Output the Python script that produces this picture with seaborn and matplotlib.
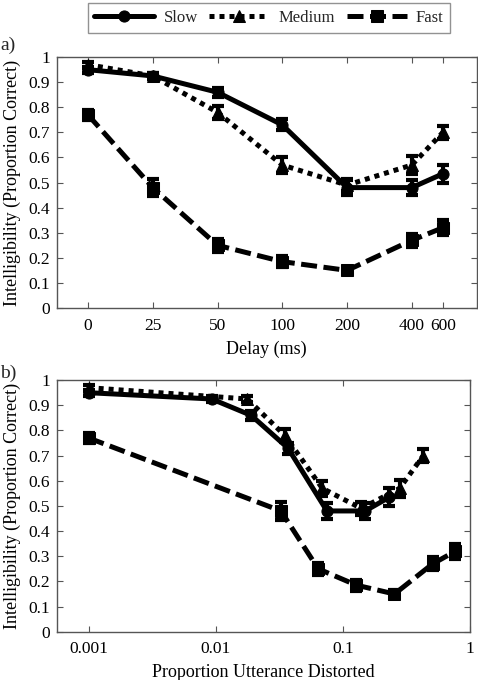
import matplotlib
matplotlib.use("Agg")
import matplotlib.pyplot as plt
import seaborn as sns
import numpy as np
from matplotlib.ticker import FixedLocator, NullLocator

# ---------------- data ----------------
delay_labels = ["0", "25", "50", "100", "200", "400", "600"]
delay_x = [0, 1, 2, 3, 4, 5, 5.48]

slow_y = [0.95, 0.925, 0.86, 0.73, 0.48, 0.48, 0.535]
slow_err = [0.012, 0.012, 0.018, 0.022, 0.03, 0.03, 0.035]
medium_y = [0.97, 0.925, 0.78, 0.57, 0.49, 0.57, 0.70]
medium_err = [0.012, 0.012, 0.025, 0.03, 0.025, 0.035, 0.025]
fast_y = [0.77, 0.48, 0.25, 0.185, 0.15, 0.27, 0.32]
fast_err = [0.02, 0.035, 0.025, 0.022, 0.015, 0.025, 0.03]

slow_prop = [0.001, 0.0093, 0.019, 0.037, 0.075, 0.15, 0.233]
medium_prop = [0.001, 0.0177, 0.035, 0.069, 0.14, 0.28, 0.43]
fast_prop = [0.001, 0.0326, 0.064, 0.128, 0.255, 0.51, 0.77]

y_ticks = [0, 0.1, 0.2, 0.3, 0.4, 0.5, 0.6, 0.7, 0.8, 0.9, 1]
y_ticklabels = ["0", "0.1", "0.2", "0.3", "0.4", "0.5", "0.6", "0.7", "0.8", "0.9", "1"]
prop_ticks = [0.001, 0.01, 0.1, 1]
prop_ticklabels = ["0.001", "0.01", "0.1", "1"]

series_names = ["Slow", "Medium", "Fast"]

# ---------------- style ----------------
sns.set_theme(style="white")
plt.rcParams["font.family"] = ["Liberation Serif", "DejaVu Serif"]
plt.rcParams["axes.edgecolor"] = "#555555"
plt.rcParams["axes.linewidth"] = 1.0

styles = {
    "Slow": dict(linestyle="-", marker="o"),
    "Medium": dict(linestyle=(0, (1.0, 1.0)), marker="^"),
    "Fast": dict(linestyle=(0, (3.2, 1.3)), marker="s"),
}

fig = plt.figure(figsize=(4.78, 6.8), dpi=100)
ax1 = fig.add_axes([0.119, 0.547, 0.878, 0.369])
ax2 = fig.add_axes([0.119, 0.071, 0.864, 0.370])

ys = {"Slow": slow_y, "Medium": medium_y, "Fast": fast_y}
errs = {"Slow": slow_err, "Medium": medium_err, "Fast": fast_err}
props = {"Slow": slow_prop, "Medium": medium_prop, "Fast": fast_prop}


def draw(ax, xs_for):
    for name in series_names:
        st = styles[name]
        xs = xs_for(name)
        sns.lineplot(x=xs, y=ys[name], ax=ax, color="black", linewidth=3.6,
                     linestyle=st["linestyle"], marker=st["marker"], markersize=8,
                     markeredgecolor="black", markerfacecolor="black",
                     sort=False, estimator=None, label=name, legend=False)
        ax.errorbar(xs, ys[name], yerr=errs[name], fmt="none", ecolor="black",
                    elinewidth=3.0, capsize=4, capthick=3.0)
    return ax


draw(ax1, lambda n: delay_x)
draw(ax2, lambda n: props[n])

for ax in (ax1, ax2):
    ax.set_ylim(0, 1)
    ax.set_yticks(y_ticks)
    ax.set_yticklabels(y_ticklabels)
    ax.tick_params(direction="in", length=4, width=0.8, color="#555555",
                   top=True, right=True, left=True, bottom=True,
                   labelsize=12.5, labelcolor="black")
    ax.tick_params(axis="x", pad=7)
    ax.tick_params(axis="y", pad=5)
    ax.set_ylabel("Intelligibility (Proportion Correct)", fontsize=13, labelpad=5,
                  color="black")
    for sp in ax.spines.values():
        sp.set_visible(True)

ax1.set_xlim(-0.48, 6.0)
ax1.set_xticks(delay_x)
ax1.set_xticklabels(delay_labels)
ax1.set_xlabel("Delay (ms)", fontsize=13, labelpad=5, color="black")

ax2.set_xscale("log")
ax2.set_xlim(10 ** -3.25, 1.0)
ax2.xaxis.set_major_locator(FixedLocator(prop_ticks))
ax2.xaxis.set_minor_locator(NullLocator())
ax2.set_xticklabels(prop_ticklabels)
ax2.set_xlabel("Proportion Utterance Distorted", fontsize=13, labelpad=5, color="black")

fig.text(0.0, 1 - 45 / 680, "a)", fontsize=14, va="center", ha="left")
fig.text(0.0, 1 - 373 / 680, "b)", fontsize=14, va="center", ha="left")

h, l = ax1.get_legend_handles_labels()
leg = fig.legend(h, l, loc="center", bbox_to_anchor=(269 / 478, 1 - 18 / 680), ncol=3,
                 frameon=True, fancybox=False, edgecolor="#777777", fontsize=12,
                 handlelength=3.6, columnspacing=0.7, handletextpad=0.55,
                 borderpad=0.4, borderaxespad=0)
leg.get_frame().set_linewidth(1.0)

fig.savefig("out.png", dpi=100)
